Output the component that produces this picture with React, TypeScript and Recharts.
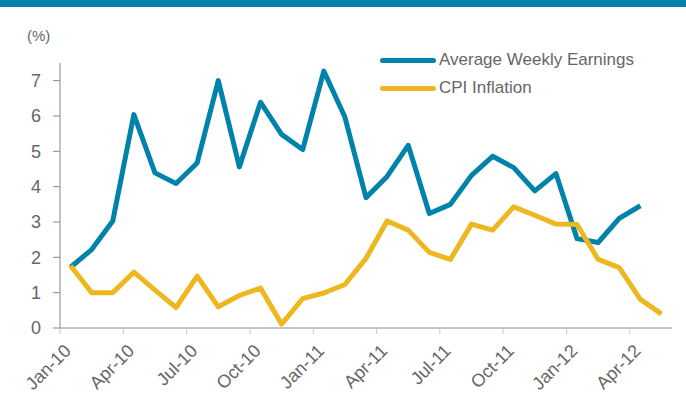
import React from 'react';
import { LineChart, Line, XAxis, YAxis } from 'recharts';

const months = [
  'Jan-10', 'Feb-10', 'Mar-10', 'Apr-10', 'May-10', 'Jun-10', 'Jul-10', 'Aug-10', 'Sep-10', 'Oct-10', 'Nov-10', 'Dec-10',
  'Jan-11', 'Feb-11', 'Mar-11', 'Apr-11', 'May-11', 'Jun-11', 'Jul-11', 'Aug-11', 'Sep-11', 'Oct-11', 'Nov-11', 'Dec-11',
  'Jan-12', 'Feb-12', 'Mar-12', 'Apr-12', 'May-12',
];

const earnings = [
  1.72, 2.22, 3.03, 6.04, 4.39, 4.09, 4.67, 7.0, 4.56, 6.39, 5.48, 5.05,
  7.27, 5.97, 3.69, 4.29, 5.17, 3.24, 3.5, 4.32, 4.86, 4.54, 3.88, 4.37,
  2.53, 2.42, 3.1, 3.46, null,
];

const cpi = [
  1.76, 1.0, 1.0, 1.58, 1.07, 0.58, 1.47, 0.6, 0.92, 1.13, 0.11, 0.83,
  0.99, 1.23, 1.97, 3.03, 2.77, 2.14, 1.94, 2.94, 2.77, 3.43, 3.19, 2.94,
  2.93, 1.94, 1.71, 0.81, 0.4,
];

const tickLabels = ['Jan-10', 'Apr-10', 'Jul-10', 'Oct-10', 'Jan-11', 'Apr-11', 'Jul-11', 'Oct-11', 'Jan-12', 'Apr-12'];
const yTicks = [0, 1, 2, 3, 4, 5, 6, 7];

const data = months.map((m, i) => ({ idx: i, month: m, earnings: earnings[i], cpi: cpi[i] }));
// ticks sit on the boundary before each labelled month
const xTicks = tickLabels.map((l) => months.indexOf(l) - 0.5);

const BLUE = '#0083AB';
const GOLD = '#EDB71F';
const TEXT = '#666666';

const XTick = (props: any) => {
  const { x, y, payload } = props;
  const label = tickLabels[Math.round((payload.value + 0.5) / 3)];
  return (
    <g transform={`translate(${x + 12},${y + 16})`}>
      <text textAnchor="end" fill={TEXT} fontSize={18} transform="rotate(-45)">
        {label}
      </text>
    </g>
  );
};

const series = [
  { name: 'Average Weekly Earnings', color: BLUE },
  { name: 'CPI Inflation', color: GOLD },
];

export default function App() {
  return (
    <div style={{ position: 'relative', width: 686, height: 409, background: '#fff', fontFamily: 'Liberation Sans, Arial, sans-serif' }}>
      <style>{'body{margin:0}'}</style>
      <div style={{ position: 'absolute', left: 0, top: 0, width: 686, height: 7, background: '#0080AA' }} />
      <div style={{ position: 'absolute', left: 27, top: 27, fontSize: 15, color: TEXT }}>(%)</div>
      <div style={{ position: 'absolute', left: 380, top: 46, fontSize: 17, color: TEXT, zIndex: 2 }}>
        {series.map((s) => (
          <div key={s.name} style={{ display: 'flex', alignItems: 'center', height: 28 }}>
            <span style={{ display: 'inline-block', width: 56, height: 5, borderRadius: 3, background: s.color, marginRight: 3 }} />
            <span>{s.name}</span>
          </div>
        ))}
      </div>
      <LineChart width={686} height={409} data={data} margin={{ top: 63, right: 14, left: 0, bottom: 5 }}>
        <XAxis
          dataKey="idx"
          type="number"
          domain={[-0.5, 28.5]}
          ticks={xTicks}
          interval={0}
          height={76}
          tick={<XTick />}
          tickSize={6}
          axisLine={{ stroke: '#888' }}
          tickLine={{ stroke: '#c8c8c8' }}
        />
        <YAxis
          domain={[0, 7.5]}
          ticks={yTicks}
          width={60}
          tickSize={7}
          tickMargin={12}
          axisLine={{ stroke: '#888' }}
          tickLine={{ stroke: '#888' }}
          tick={{ fill: TEXT, fontSize: 18 }}
        />
        <Line type="linear" dataKey="earnings" stroke={BLUE} strokeWidth={5} dot={false} isAnimationActive={false} strokeLinejoin="round" />
        <Line type="linear" dataKey="cpi" stroke={GOLD} strokeWidth={5} dot={false} isAnimationActive={false} strokeLinejoin="round" />
      </LineChart>
    </div>
  );
}
